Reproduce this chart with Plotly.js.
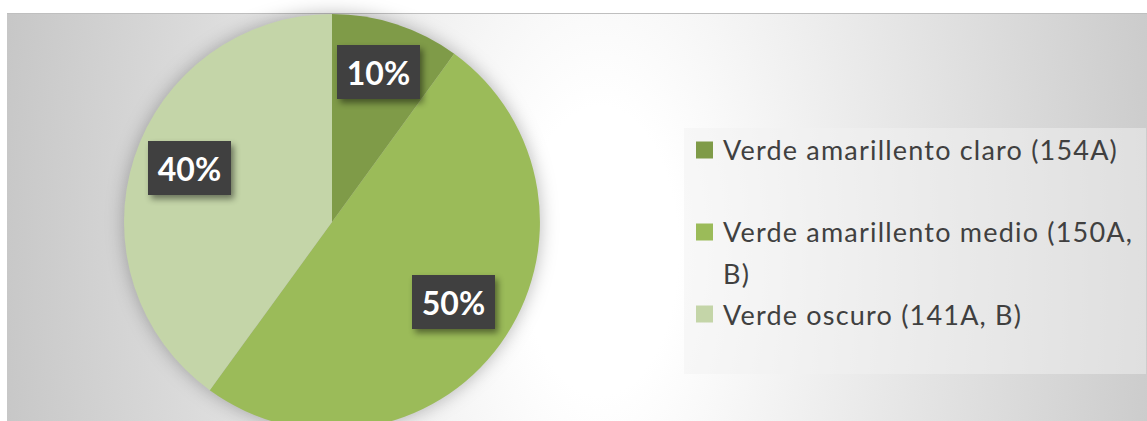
<!DOCTYPE html>
<html>
<head>
<meta charset="utf-8">
<script src="https://cdn.plot.ly/plotly-3.0.1.min.js"></script>
<style>
  html, body { margin: 0; padding: 0; background: #ffffff; overflow: hidden; }
  #wrap { position: relative; width: 1147px; height: 421px; overflow: hidden; background: #ffffff; }
  #bg {
    position: absolute; left: 7px; top: 13px; right: 0; bottom: 0;
    border-top: 1px solid #bfbfbf;
    background: radial-gradient(ellipse 650px 1200px at 593px 237px, #ffffff 0%, #ffffff 12%, #c2c2c2 100%);
  }
  #plot { position: absolute; left: 0; top: 0; width: 1147px; height: 440px; }
  #plot .pielayer { filter: drop-shadow(0px 0px 9px rgba(0,0,0,0.28)); }
  #plot .annotation rect.bg { filter: drop-shadow(3px 4px 3px rgba(0,0,0,0.45)); }
  #plot .annotation-text[style*="font-size: 27px"] { letter-spacing: 1.2px; }
</style>
</head>
<body>
<div id="wrap">
  <div id="bg"></div>
  <div id="plot"></div>
</div>
<script>
// ---- data ----
const labels = ['Verde amarillento claro (154A)', 'Verde amarillento medio (150A, B)', 'Verde oscuro (141A, B)'];
const values = [10, 50, 40];
const colors = ['#7f9b48', '#9bbb59', '#c4d5a8'];

// ---- geometry (pixels) ----
const W = 1147, H = 440;
const pieLeft = 124, pieRight = 540, pieTop = 14, pieBottom = 430;
const cx = (pieLeft + pieRight) / 2, cy = (pieTop + pieBottom) / 2, R = (pieRight - pieLeft) / 2;
const px = x => x / W;
const py = y => 1 - y / H;

const total = values.reduce((a, b) => a + b, 0);

const annotations = [];
const shapes = [];

// data labels (dark boxes) placed at slice mid-angles
let cum = 0;
values.forEach((v, i) => {
  const mid = (cum + v / 2) / total * 2 * Math.PI; // clockwise from 12 o'clock
  cum += v;
  const r = 0.72 * R;
  const x = cx + r * Math.sin(mid);
  const y = cy - 8 - r * Math.cos(mid);
  annotations.push({
    xref: 'paper', yref: 'paper', x: px(x), y: py(y),
    xanchor: 'center', yanchor: 'middle', showarrow: false,
    text: Math.round(v / total * 100) + '%',
    font: { family: 'Lato, "Open Sans", sans-serif', size: 32, color: '#ffffff', weight: 'bold' },
    bgcolor: '#404040', borderwidth: 0, borderpad: 0, width: 83, height: 54
  });
});

// legend box
shapes.push({
  type: 'rect', xref: 'paper', yref: 'paper',
  x0: px(684), x1: px(1146), y0: py(374), y1: py(128),
  fillcolor: 'rgba(241,241,241,0.5)', line: { width: 0 }, layer: 'below'
});

function wrap(text, maxChars) {
  const words = text.split(' ');
  const lines = [];
  let cur = '';
  words.forEach(w => {
    const t = cur ? cur + ' ' + w : w;
    if (t.length > maxChars && cur) { lines.push(cur); cur = w; } else { cur = t; }
  });
  if (cur) lines.push(cur);
  return lines;
}

const legY0 = 150, slot = 82, lineGap = 41;
labels.forEach((lab, i) => {
  const yc = legY0 + i * slot;
  shapes.push({
    type: 'rect', xref: 'paper', yref: 'paper',
    x0: px(696), x1: px(713), y0: py(yc + 8.5), y1: py(yc - 8.5),
    fillcolor: colors[i], line: { width: 0 }
  });
  wrap(lab, 31).forEach((ln, j) => {
    annotations.push({
      xref: 'paper', yref: 'paper', x: px(721), y: py(yc + j * lineGap),
      xanchor: 'left', yanchor: 'middle', align: 'left', showarrow: false, text: ln,
      font: { family: 'Lato, "Open Sans", sans-serif', size: 27, color: '#404040' }
    });
  });
});

const trace = {
  type: 'pie',
  labels: labels,
  values: values,
  sort: false,
  direction: 'clockwise',
  rotation: 0,
  marker: { colors: colors, line: { width: 0 } },
  textinfo: 'none',
  hoverinfo: 'label+percent',
  domain: { x: [px(pieLeft), px(pieRight)], y: [1 - pieBottom / H, 1 - pieTop / H] }
};

const layout = {
  width: W, height: H,
  margin: { l: 0, r: 0, t: 0, b: 0, pad: 0 },
  paper_bgcolor: 'rgba(0,0,0,0)',
  plot_bgcolor: 'rgba(0,0,0,0)',
  showlegend: false,
  annotations: annotations,
  shapes: shapes
};

Plotly.newPlot('plot', [trace], layout, { displayModeBar: false, staticPlot: true });
</script>
</body>
</html>
